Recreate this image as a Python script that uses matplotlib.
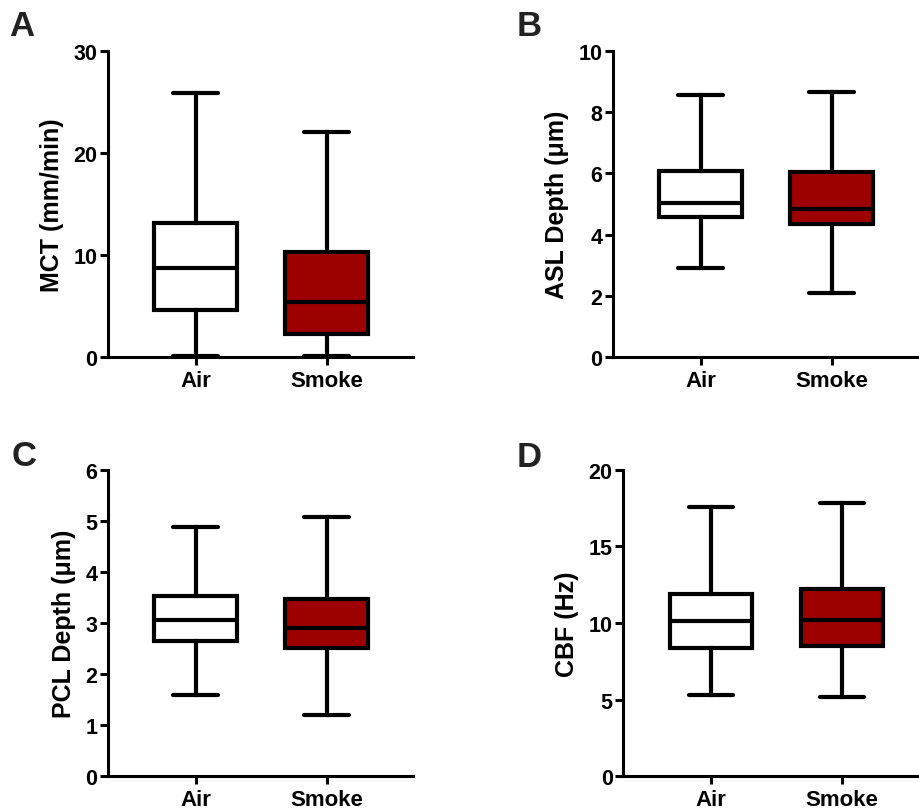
import matplotlib
matplotlib.use("Agg")
import matplotlib.pyplot as plt

plt.rcParams['font.family'] = ['Liberation Sans', 'DejaVu Sans']
plt.rcParams['font.weight'] = 'bold'
plt.rcParams['mathtext.default'] = 'regular'

groups = ['Air', 'Smoke']
fills = ['white', '#9E0000']

# five-number summaries: whislo, q1, median, q3, whishi
mct_air = [0.15, 4.6, 8.7, 13.1, 25.9]
mct_smoke = [0.15, 2.25, 5.4, 10.3, 22.1]
asl_air = [2.92, 4.57, 5.04, 6.08, 8.57]
asl_smoke = [2.1, 4.34, 4.84, 6.04, 8.67]
pcl_air = [1.58, 2.64, 3.05, 3.53, 4.88]
pcl_smoke = [1.19, 2.51, 2.9, 3.48, 5.07]
cbf_air = [5.3, 8.4, 10.15, 11.9, 17.55]
cbf_smoke = [5.15, 8.5, 10.2, 12.2, 17.85]

panels = [
    ('A', 'MCT (mm/min)', [mct_air, mct_smoke], 30, [0, 10, 20, 30]),
    ('B', 'ASL Depth (\u03bcm)', [asl_air, asl_smoke], 10, [0, 2, 4, 6, 8, 10]),
    ('C', 'PCL Depth (\u03bcm)', [pcl_air, pcl_smoke], 6, [0, 1, 2, 3, 4, 5, 6]),
    ('D', 'CBF (Hz)', [cbf_air, cbf_smoke], 20, [0, 5, 10, 15, 20]),
]

rects = [
    [0.1175, 0.559, 0.332, 0.377],
    [0.667, 0.559, 0.332, 0.377],
    [0.1175, 0.043, 0.332, 0.377],
    [0.678, 0.043, 0.332, 0.377],
]
# panel letter centres in pixels (x, y from top)
letter_pos = [(22, 27), (529, 27), (24, 457), (529, 458)]

fig = plt.figure(figsize=(9.19, 8.12), dpi=100)

for (letter, ylab, summ, ymax, ticks), r, lp in zip(panels, rects, letter_pos):
    ax = fig.add_axes(r)
    stats = []
    for g, s in zip(groups, summ):
        stats.append(dict(label=g, whislo=s[0], q1=s[1], med=s[2], q3=s[3], whishi=s[4]))
    bp = ax.bxp(stats, positions=[0, 1], widths=0.63, showfliers=False,
                patch_artist=True,
                boxprops=dict(linewidth=3, edgecolor='black'),
                medianprops=dict(linewidth=3, color='black'),
                whiskerprops=dict(linewidth=3, color='black'),
                capprops=dict(linewidth=3, color='black'),
                capwidths=0.34)
    for patch, c in zip(bp['boxes'], fills):
        patch.set_facecolor(c)
    for cap in bp['caps']:
        cap.set_solid_capstyle('round')
    ax.set_xlim(-0.67, 1.66)
    ax.set_ylim(0, ymax)
    ax.set_yticks(ticks)
    ax.spines['top'].set_visible(False)
    ax.spines['right'].set_visible(False)
    ax.spines['left'].set_linewidth(2.2)
    ax.spines['bottom'].set_linewidth(2.2)
    ax.tick_params(axis='both', width=2.2, length=5.5)
    ax.tick_params(axis='x', labelsize=16, pad=4)
    ax.tick_params(axis='y', labelsize=15.5, pad=2)
    ax.set_ylabel(ylab, fontsize=18, fontweight='bold', labelpad=7)
    for lab in ax.get_xticklabels() + ax.get_yticklabels():
        lab.set_fontweight('bold')
    fig.text(lp[0] / 919, 1 - lp[1] / 812, letter, fontsize=25,
             fontweight='bold', ha='center', va='center', color='#222222')

fig.savefig('out.png', dpi=100)
